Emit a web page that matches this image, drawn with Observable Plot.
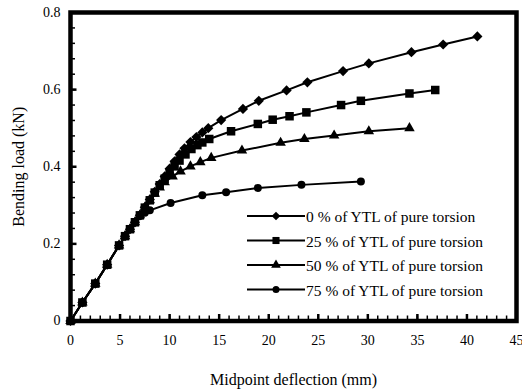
<!DOCTYPE html>
<html><head><meta charset="utf-8">
<script src="https://cdn.jsdelivr.net/npm/d3@7"></script>
<script src="https://cdn.jsdelivr.net/npm/@observablehq/plot@0.6"></script>
<style>
html,body{margin:0;padding:0;background:#fff;}
#wrap{position:relative;width:522px;height:390px;overflow:hidden;}
#wrap svg.legend{position:absolute;left:0;top:0;pointer-events:none;}
</style></head><body><div id="wrap"></div>
<script>
const seriesLabels = ["0 % of YTL of pure torsion", "25 % of YTL of pure torsion", "50 % of YTL of pure torsion", "75 % of YTL of pure torsion"];
const seriesSymbols = ["diamond2", "square", "triangle", "circle"];
const seriesR = [4.6, 4.8, 3.9, 4];

const deflection0 = [0, 1.2, 2.5, 3.7, 4.9, 5.5, 6.0, 6.5, 7.0, 7.5, 8.0, 8.5, 9.0, 9.5, 10.0, 10.5, 11.0, 11.5, 12.1, 12.7, 13.3, 13.9, 15.2, 17.4, 19.0, 21.8, 23.9, 27.5, 30.1, 34.4, 37.6, 41.05];
const load0 = [0, 0.048, 0.097, 0.146, 0.196, 0.22, 0.238, 0.256, 0.274, 0.295, 0.315, 0.335, 0.355, 0.375, 0.395, 0.414, 0.432, 0.448, 0.464, 0.477, 0.489, 0.500, 0.521, 0.550, 0.571, 0.598, 0.619, 0.648, 0.668, 0.697, 0.717, 0.738];

const deflection25 = [0, 1.2, 2.5, 3.7, 4.9, 5.5, 6.0, 6.5, 7.0, 7.5, 8.0, 8.5, 9.0, 9.5, 10.0, 10.5, 11.0, 11.6, 12.2, 12.8, 13.3, 14.0, 16.2, 18.9, 20.4, 22.1, 23.8, 27.3, 29.3, 34.2, 36.8];
const load25 = [0, 0.048, 0.097, 0.146, 0.196, 0.22, 0.238, 0.256, 0.274, 0.294, 0.313, 0.333, 0.352, 0.369, 0.385, 0.401, 0.416, 0.432, 0.446, 0.456, 0.463, 0.472, 0.492, 0.511, 0.522, 0.531, 0.541, 0.560, 0.571, 0.590, 0.599];

const deflection50 = [0, 1.2, 2.5, 3.7, 4.9, 5.5, 6.0, 6.5, 7.0, 7.5, 8.0, 8.5, 9.0, 9.5, 10.3, 11.1, 12.1, 13.1, 14.2, 17.3, 21.2, 23.6, 26.6, 30.1, 34.2];
const load50 = [0, 0.048, 0.097, 0.146, 0.196, 0.22, 0.238, 0.256, 0.274, 0.294, 0.313, 0.33, 0.346, 0.36, 0.375, 0.388, 0.401, 0.412, 0.423, 0.442, 0.462, 0.472, 0.481, 0.492, 0.500];

const deflection75 = [0, 1.2, 2.5, 3.7, 4.9, 5.5, 6.0, 6.5, 7.0, 7.5, 8.0, 10.1, 13.3, 15.7, 18.9, 23.3, 29.3];
const load75 = [0, 0.048, 0.097, 0.146, 0.196, 0.22, 0.238, 0.256, 0.272, 0.281, 0.287, 0.306, 0.326, 0.334, 0.345, 0.353, 0.362];

const xMajorTicks = [0, 5, 10, 15, 20, 25, 30, 35, 40, 45];
const xMinorTicks = d3.range(0, 46, 1);
const yMajorTicks = [0, 0.2, 0.4, 0.6, 0.8];
const yMinorTicks = [0, 0.04, 0.08, 0.12, 0.16, 0.2, 0.24, 0.28, 0.32, 0.36, 0.4, 0.44, 0.48, 0.52, 0.56, 0.6, 0.64, 0.68, 0.72, 0.76, 0.8];
const yTickLabels = ["0", "0.2", "0.4", "0.6", "0.8"];

const xs = [deflection0, deflection25, deflection50, deflection75];
const ys = [load0, load25, load50, load75];
const rows = seriesLabels.flatMap((s, i) => xs[i].map((d, j) => ({series: s, d, p: ys[i][j]})));

const font = "Liberation Serif, Times New Roman, serif";

const chart = Plot.plot({
  width: 522, height: 390,
  marginLeft: 70, marginRight: 6, marginTop: 12, marginBottom: 69.5,
  style: {fontFamily: font, fontSize: "14px", background: "white", color: "black"},
  x: {domain: [0, 45]},
  y: {domain: [0, 0.8]},
  marks: [
    Plot.frame({stroke: "black", strokeWidth: 4.5}),
    Plot.axisX(xMinorTicks, {tickSize: -5, strokeWidth: 1.5, fill: "none", label: null}),
    Plot.axisX(xMajorTicks, {tickSize: -6.5, strokeWidth: 2.5, fill: "none", label: null}),
    Plot.axisX(xMajorTicks, {tickSize: 0, tickPadding: 14, fontSize: 14, label: "Midpoint deflection (mm)", labelAnchor: "center", labelArrow: "none", labelOffset: 64}),
    Plot.axisY(yMinorTicks, {tickSize: -5, strokeWidth: 1.5, fill: "none", label: null}),
    Plot.axisY(yMajorTicks, {tickSize: -6.5, strokeWidth: 2.5, fill: "none", label: null}),
    Plot.axisY(yMajorTicks, {tickSize: 0, tickPadding: 10, fontSize: 14, tickFormat: (d, i) => yTickLabels[i], label: "Bending load (kN)", labelAnchor: "center", labelArrow: "none", labelOffset: 57.5}),
    Plot.line(rows, {x: "d", y: "p", z: "series", stroke: "black", strokeWidth: 2}),
    ...seriesLabels.map((s, i) => Plot.dot(rows.filter(r => r.series === s), {x: "d", y: "p", symbol: seriesSymbols[i], r: seriesR[i], fill: "black", stroke: "none"}))
  ]
});

d3.select(chart).selectAll('g[aria-label="x-axis label"] text, g[aria-label="y-axis label"] text').attr("font-size", 16);

const wrap = document.getElementById("wrap");
wrap.appendChild(chart);

// legend overlay
const symMap = {diamond2: d3.symbolDiamond2, square: d3.symbolSquare, triangle: d3.symbolTriangle, circle: d3.symbolCircle};
const legR = [3.9, 4, 3.6, 3.5];
const leg = d3.select(wrap).append("svg").attr("class", "legend").attr("width", 522).attr("height", 390);
const rowsG = leg.selectAll("g").data(seriesLabels).join("g")
  .attr("transform", (d, i) => `translate(0,${216 + i * 24.5})`);
rowsG.append("line").attr("x1", 247).attr("x2", 305).attr("y1", 0).attr("y2", 0).attr("stroke", "black").attr("stroke-width", 2);
rowsG.append("path").attr("transform", "translate(276,0)")
  .attr("d", (d, i) => d3.symbol(symMap[seriesSymbols[i]], Math.PI * legR[i] * legR[i])())
  .attr("fill", "black");
rowsG.append("text").attr("x", 306).attr("y", 6).attr("font-family", font).attr("font-size", 15.5).attr("fill", "black").text(d => d);
</script></body></html>
